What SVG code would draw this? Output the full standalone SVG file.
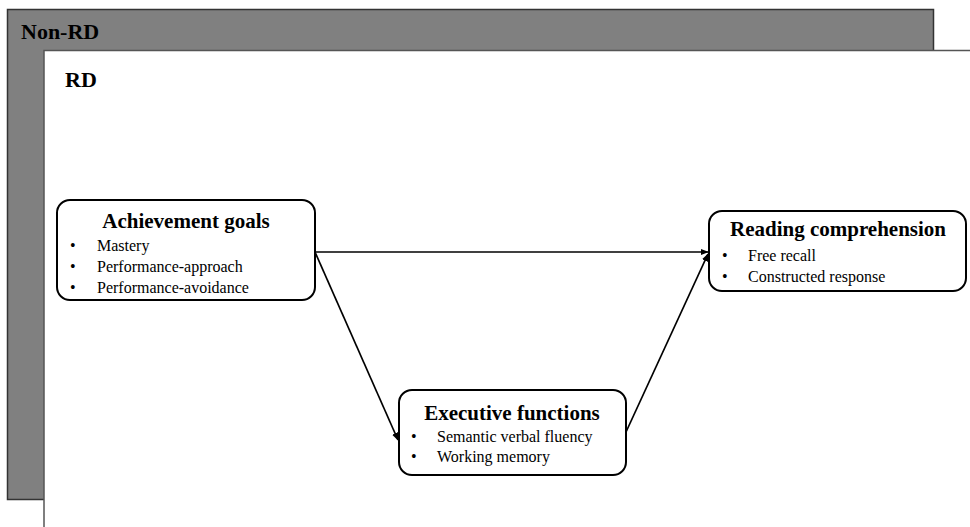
<svg xmlns="http://www.w3.org/2000/svg" width="970" height="527" viewBox="0 0 970 527">
  <defs>
    <marker id="arrow" viewBox="0 0 10 10" refX="9" refY="5" markerWidth="8" markerHeight="8" markerUnits="userSpaceOnUse" orient="auto">
      <path d="M0,1 L10,5 L0,9 Z" fill="#000"/>
    </marker>
  </defs>
  <style>
    text { font-family: "Liberation Serif", "Times New Roman", serif; fill: #000; }
    .panel-title { font-size: 22px; font-weight: bold; }
    .node-title { font-size: 21px; font-weight: bold; text-anchor: middle; }
    .item { font-size: 16px; }
    .box { fill: #fff; stroke: #000; stroke-width: 2; }
    .edge { stroke: #000; stroke-width: 1.7; fill: none; marker-end: url(#arrow); }
  </style>

  <!-- background panel: Non-RD group -->
  <g id="panel-nonrd">
    <rect x="7.5" y="9.5" width="926" height="490" fill="#808080" stroke="#333" stroke-width="1.5"/>
    <text class="panel-title" x="21" y="39">Non-RD</text>
  </g>

  <!-- foreground panel: RD group -->
  <g id="panel-rd">
    <rect x="44" y="50.5" width="940" height="490" fill="#fff" stroke="#555" stroke-width="1.5"/>
    <text class="panel-title" x="65" y="87">RD</text>
  </g>

  <!-- connectors -->
  <g id="connectors">
    <line class="edge" x1="315" y1="252" x2="708" y2="252"/>
    <line class="edge" x1="315" y1="252" x2="398" y2="440"/>
    <line class="edge" x1="626" y1="432" x2="708" y2="254"/>
  </g>

  <g id="node-achievement">
    <rect class="box" x="57" y="200" width="258" height="100" rx="13"/>
    <text class="node-title" x="186" y="228">Achievement goals</text>
    <text class="item" x="70" y="251">•</text>
    <text class="item" x="97" y="251">Mastery</text>
    <text class="item" x="70" y="272">•</text>
    <text class="item" x="97" y="272">Performance-approach</text>
    <text class="item" x="70" y="293">•</text>
    <text class="item" x="97" y="293">Performance-avoidance</text>
  </g>

  <g id="node-reading">
    <rect class="box" x="709" y="211" width="257" height="80" rx="13"/>
    <text class="node-title" x="838" y="236">Reading comprehension</text>
    <text class="item" x="722" y="261">•</text>
    <text class="item" x="748" y="261">Free recall</text>
    <text class="item" x="722" y="282">•</text>
    <text class="item" x="748" y="282">Constructed response</text>
  </g>

  <g id="node-executive">
    <rect class="box" x="399" y="390" width="227" height="85" rx="13"/>
    <text class="node-title" x="512" y="420">Executive functions</text>
    <text class="item" x="411" y="442">•</text>
    <text class="item" x="437" y="442">Semantic verbal fluency</text>
    <text class="item" x="411" y="462">•</text>
    <text class="item" x="437" y="462">Working memory</text>
  </g>
</svg>
